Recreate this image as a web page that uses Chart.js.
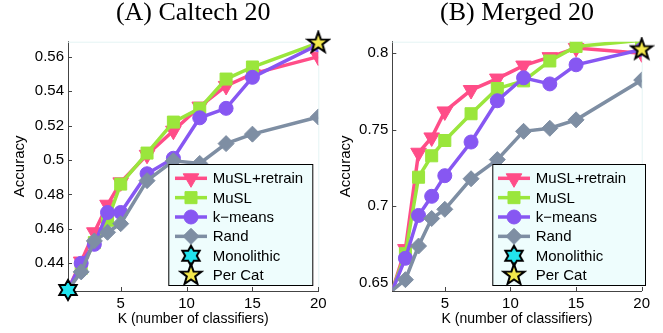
<!DOCTYPE html>
<html lang="en">
<head>
<meta charset="UTF-8">
<title>Accuracy vs K - Caltech 20 / Merged 20</title>
<script src="https://cdn.jsdelivr.net/npm/chart.js"></script>
<style>
  body { margin: 0; background: #fff; }
  .wrap { display: flex; width: 663px; height: 333px; }
  canvas { display: block; }
</style>
</head>
<body>
<div class="wrap">
  <canvas id="chartA" width="331" height="333"></canvas>
  <canvas id="chartB" width="332" height="333"></canvas>
</div>
<script>
// K values (number of classifiers)
const K = [1, 2, 3, 4, 5, 7, 9, 11, 13, 15, 20];
const X_TICKS = [5, 10, 15, 20];

// (A) Caltech 20
const A_RETRAIN = [0.4245, 0.441, 0.458, 0.474, 0.487, 0.503, 0.517, 0.531, 0.543, 0.550, 0.560];
const A_MUSL    = [0.4245, 0.437, 0.452, 0.465, 0.486, 0.504, 0.522, 0.530, 0.547, 0.554, 0.568];
const A_KMEANS  = [0.4245, 0.440, 0.451, 0.4695, 0.4695, 0.492, 0.501, 0.5245, 0.530, 0.548, 0.567];
const A_RAND    = [0.4245, 0.435, 0.453, 0.458, 0.463, 0.488, 0.4995, 0.498, 0.5095, 0.515, 0.525];
const A_MONO    = [{ x: 1, y: 0.4245 }];
const A_PERCAT  = [{ x: 20, y: 0.568 }];
const A_YTICKS  = [0.44, 0.46, 0.48, 0.5, 0.52, 0.54, 0.56];

// (B) Merged 20
const B_RETRAIN = [0.645, 0.672, 0.735, 0.745, 0.762, 0.776, 0.7835, 0.792, 0.7975, 0.8035, 0.800];
const B_MUSL    = [0.645, 0.669, 0.719, 0.733, 0.743, 0.7605, 0.777, 0.782, 0.795, 0.8045, 0.8085];
const B_KMEANS  = [0.645, 0.666, 0.694, 0.7065, 0.720, 0.742, 0.769, 0.784, 0.780, 0.7925, 0.8025];
const B_RAND    = [0.645, 0.652, 0.674, 0.692, 0.698, 0.718, 0.7305, 0.749, 0.751, 0.7565, 0.7825];
const B_MONO    = [];
const B_PERCAT  = [{ x: 20, y: 0.8025 }];
const B_YTICKS  = [0.65, 0.7, 0.75, 0.8];

const SANS = "'Liberation Sans', Arial, sans-serif";
const SERIF = "'Liberation Serif', 'Times New Roman', serif";

// filled star marker drawn to a small canvas, used as pointStyle
function makeStar(arms, fill, outer) {
    const size = Math.ceil(outer * 2 + 4);
    const c = document.createElement('canvas');
    c.width = size; c.height = size;
    const g = c.getContext('2d');
    const inner = arms === 6 ? outer * 0.577 : outer * 0.40;
    g.beginPath();
    for (let i = 0; i < arms * 2; i++) {
        const r = i % 2 === 0 ? outer : inner;
        const a = -Math.PI / 2 + i * Math.PI / arms;
        g.lineTo(size / 2 + r * Math.cos(a), size / 2 + r * Math.sin(a));
    }
    g.closePath();
    g.fillStyle = fill;
    g.fill();
    g.lineWidth = 2;
    g.lineJoin = 'miter';
    g.strokeStyle = '#000';
    g.stroke();
    return c;
}
const HEXAGRAM = makeStar(6, '#22e4ee', 10);
const PENTAGRAM = makeStar(5, '#f4e84c', 11);

function series(label, values, color, style, radius, rotation, order) {
    return {
        label: label,
        data: K.map((k, i) => ({ x: k, y: values[i] })),
        borderColor: color,
        backgroundColor: color,
        pointBackgroundColor: color,
        pointBorderColor: color,
        borderWidth: 3.5,
        pointStyle: style,
        pointRotation: rotation,
        pointRadius: ctx => ctx.dataIndex === 0 ? 0 : radius,
        pointBorderWidth: 1,
        tension: 0,
        order: order,
        _legendRadius: radius
    };
}

function stars(label, data, img) {
    return {
        label: label,
        data: data,
        showLine: false,
        pointStyle: img,
        pointRadius: 10,
        clip: false,
        order: 0
    };
}

// legend box inside the plot area, drawn from the datasets' own styles
const boxLegend = {
    id: 'boxLegend',
    afterDraw(chart, args, o) {
        if (!o || !o.box) return;
        const ctx = chart.ctx;
        const b = o.box;
        ctx.save();
        ctx.fillStyle = '#eefdfd';
        ctx.fillRect(b.x, b.y, b.w, b.h);
        ctx.strokeStyle = '#000';
        ctx.lineWidth = 1;
        ctx.strokeRect(b.x + 0.5, b.y + 0.5, b.w, b.h);
        ctx.font = '15px ' + SANS;
        ctx.textBaseline = 'middle';
        chart.data.datasets.forEach((ds, i) => {
            const y = o.rowTop + i * o.rowGap;
            const mx = (o.lineX0 + o.lineX1) / 2;
            if (ds.showLine !== false) {
                ctx.strokeStyle = ds.borderColor;
                ctx.lineWidth = ds.borderWidth;
                ctx.beginPath();
                ctx.moveTo(o.lineX0, y);
                ctx.lineTo(o.lineX1, y);
                ctx.stroke();
                ctx.fillStyle = ds.pointBackgroundColor;
                ctx.strokeStyle = ds.pointBorderColor;
                ctx.lineWidth = 1;
                Chart.helpers.drawPoint(ctx, {
                    pointStyle: ds.pointStyle, rotation: ds.pointRotation,
                    radius: ds._legendRadius, borderWidth: 1
                }, mx, y);
            } else {
                ctx.drawImage(ds.pointStyle, mx - ds.pointStyle.width / 2, y - ds.pointStyle.height / 2);
            }
            ctx.fillStyle = '#000';
            ctx.fillText(ds.label, o.textX, y + 1);
        });
        ctx.restore();
    }
};

// small inward tick marks + faint top/right frame, like the original axes
const axisTicks = {
    id: 'axisTicks',
    beforeDatasetsDraw(chart) {
        const ctx = chart.ctx;
        const a = chart.chartArea;
        const xs = chart.scales.x, ys = chart.scales.y;
        ctx.save();
        ctx.strokeStyle = '#e4f4f4';
        ctx.lineWidth = 1;
        ctx.beginPath();
        ctx.moveTo(a.left, a.top + 0.5);
        ctx.lineTo(a.right + 0.5, a.top + 0.5);
        ctx.lineTo(a.right + 0.5, a.bottom);
        ctx.stroke();
        ctx.strokeStyle = '#444';
        ctx.beginPath();
        xs.ticks.forEach(t => {
            const px = Math.round(xs.getPixelForValue(t.value)) + 0.5;
            ctx.moveTo(px, a.bottom);
            ctx.lineTo(px, a.bottom - 4);
        });
        ys.ticks.forEach(t => {
            const py = Math.round(ys.getPixelForValue(t.value)) + 0.5;
            ctx.moveTo(a.left, py);
            ctx.lineTo(a.left + 4, py);
        });
        ctx.stroke();
        ctx.restore();
    }
};

function makeChart(id, cfg) {
    return new Chart(document.getElementById(id), {
        type: 'line',
        data: {
            datasets: [
                series('MuSL+retrain', cfg.retrain, '#ff4d88', 'triangle', 9, 180, 4),
                series('MuSL', cfg.musl, '#9ae63c', 'rect', 8.5, 0, 3),
                series('k\u2212means', cfg.kmeans, '#8757f2', 'circle', 7, 0, 2),
                series('Rand', cfg.rand, '#7e8ea3', 'rectRot', 8, 0, 1),
                stars('Monolithic', cfg.mono, HEXAGRAM),
                stars('Per Cat', cfg.percat, PENTAGRAM)
            ]
        },
        options: {
            responsive: false,
            animation: false,
            events: [],
            layout: { padding: { left: 0, right: cfg.padRight, top: 0, bottom: 0 } },
            plugins: {
                legend: { display: false },
                tooltip: { enabled: false },
                title: {
                    display: true,
                    text: cfg.title,
                    fullSize: false,
                    color: '#000',
                    font: { family: SERIF, size: 26, weight: 'normal', lineHeight: 1 },
                    padding: { top: 0, bottom: 15.7 }
                },
                boxLegend: cfg.legend
            },
            scales: {
                x: {
                    type: 'linear',
                    min: 1,
                    max: 20,
                    afterBuildTicks: s => { s.ticks = X_TICKS.map(v => ({ value: v })); },
                    afterFit: s => { s.height = 42; },
                    grid: { display: false, drawTicks: false },
                    border: { color: '#444', width: 1 },
                    ticks: {
                        color: '#000', padding: 4, maxRotation: 0, autoSkip: false,
                        font: { family: SANS, size: 15 }
                    },
                    title: {
                        display: true, text: 'K (number of classifiers)', color: '#000',
                        font: { family: SANS, size: 14 }, padding: { top: 0, bottom: 5.6 }
                    }
                },
                y: {
                    type: 'linear',
                    min: cfg.ymin,
                    max: cfg.ymax,
                    afterBuildTicks: s => { s.ticks = cfg.yticks.map(v => ({ value: v })); },
                    afterFit: s => { s.width = cfg.yWidth; },
                    grid: { display: false, drawTicks: false },
                    border: { color: '#444', width: 1 },
                    ticks: {
                        color: '#000', padding: 4, autoSkip: false,
                        font: { family: SANS, size: 15 },
                        callback: v => String(v)
                    },
                    title: {
                        display: true, text: 'Accuracy', color: '#000',
                        font: { family: SANS, size: 15 }, padding: { top: cfg.yTitlePad, bottom: 0 }
                    }
                }
            }
        },
        plugins: [axisTicks, boxLegend]
    });
}

document.addEventListener('DOMContentLoaded', function () {
    makeChart('chartA', {
        title: '(A) Caltech 20',
        retrain: A_RETRAIN, musl: A_MUSL, kmeans: A_KMEANS, rand: A_RAND,
        mono: A_MONO, percat: A_PERCAT,
        ymin: 0.4239, ymax: 0.5687, yticks: A_YTICKS,
        yWidth: 68, yTitlePad: 11, padRight: 12.7,
        legend: {
            box: { x: 168.3, y: 164, w: 144, h: 121 },
            rowTop: 178.3, rowGap: 19.35,
            lineX0: 175, lineX1: 207, textX: 212.7
        }
    });
    makeChart('chartB', {
        title: '(B) Merged 20',
        retrain: B_RETRAIN, musl: B_MUSL, kmeans: B_KMEANS, rand: B_RAND,
        mono: B_MONO, percat: B_PERCAT,
        ymin: 0.6446, ymax: 0.8076, yticks: B_YTICKS,
        yWidth: 61.3, yTitlePad: 5.7, padRight: 21.3,
        legend: {
            box: { x: 161.3, y: 164, w: 152.7, h: 121 },
            rowTop: 178.3, rowGap: 19.35,
            lineX0: 167, lineX1: 199, textX: 204.7
        }
    });
});
</script>
</body>
</html>
